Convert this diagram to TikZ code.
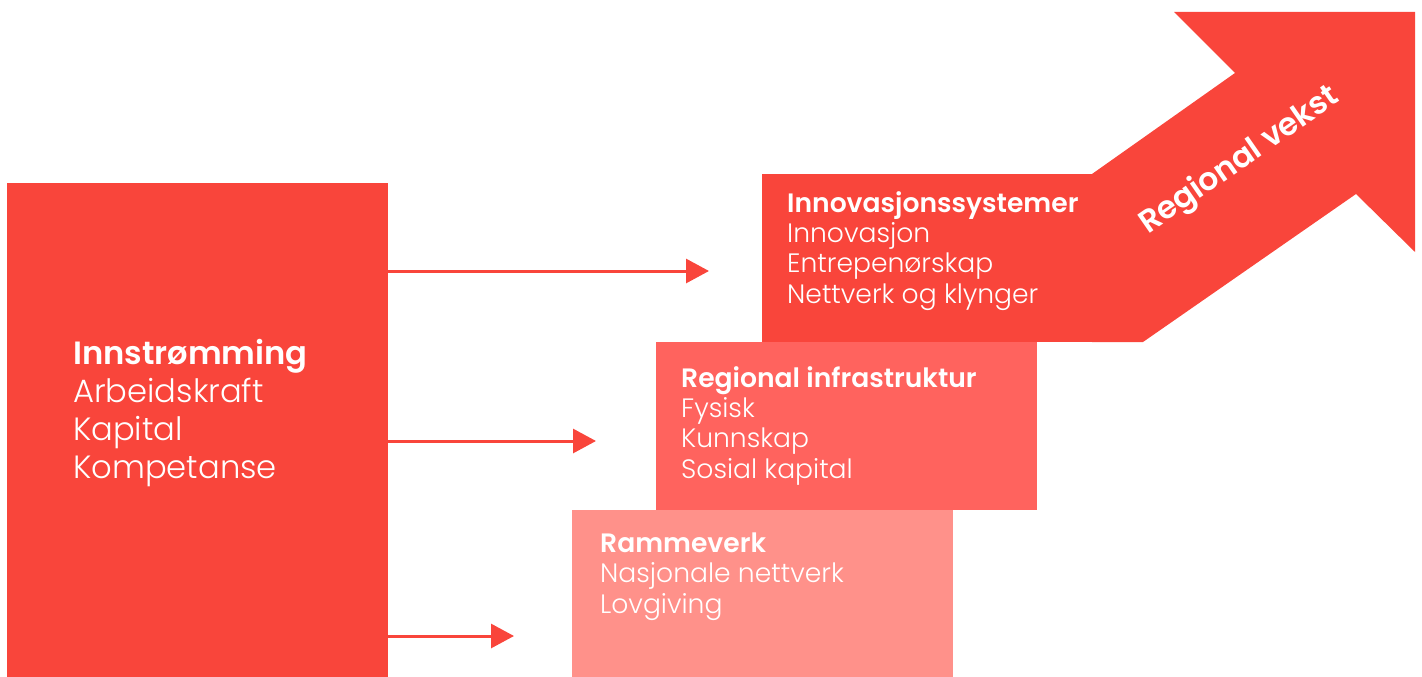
\documentclass[tikz,border=0pt]{standalone}
\usepackage{fontspec}
\setmainfont{Poppins}[UprightFont={* Light},BoldFont={* SemiBold}]
\usetikzlibrary{arrows.meta}
\definecolor{cTop}{HTML}{F9453B}
\definecolor{cMid}{HTML}{FF635E}
\definecolor{cLow}{HTML}{FF918A}
\tikzset{
  box/.style={rectangle, inner sep=0pt, draw=none, anchor=north west},
  boxtext/.style={text=white, inner sep=0pt, anchor=base west, align=left},
  flow/.style={draw=cTop, line width=3pt, -{Triangle[length=23pt,width=24pt]}},
}
\begin{document}
\begin{tikzpicture}[x=1pt,y=-1pt]
\useasboundingbox (0,0) rectangle (1422,677);
% boxes
\node[box, fill=cTop, minimum width=381pt, minimum height=494pt] (inflow) at (7,183) {};
\fill[cTop] (1092,174) -- (1235,73) -- (1174,12) -- (1415,12) -- (1415,252)
  -- (1356,194) -- (1143,342) -- (1092,342) -- cycle;
\node[box, fill=cTop, minimum width=381pt, minimum height=168pt] (innov) at (762,174) {};
\node[box, fill=cMid, minimum width=381pt, minimum height=168pt] (infra) at (656,342) {};
\node[box, fill=cLow, minimum width=381pt, minimum height=167pt] (frame) at (572,510) {};
% texts (anchored at the baseline of the last line)
\node[boxtext, font=\fontsize{32.2}{38}\selectfont] (inflowtext) at (73,478)
  {\textbf{Innstrømming}\\Arbeidskraft\\Kapital\\Kompetanse};
\node[text=white, font=\fontsize{31.5}{36}\selectfont\bfseries, rotate=34.8] (growth) at (1240,161) {Regional vekst};
\node[boxtext, font=\fontsize{26.6}{30.2}\selectfont] (innovtext) at (787,303)
  {\textbf{Innovasjonssystemer}\\Innovasjon\\Entrepenørskap\\Nettverk og klynger};
\node[boxtext, font=\fontsize{26.6}{30.3}\selectfont] (infratext) at (681,478)
  {\textbf{Regional infrastruktur}\\Fysisk\\Kunnskap\\Sosial kapital};
\node[boxtext, font=\fontsize{26.6}{30.5}\selectfont] (frametext) at (600,613)
  {\textbf{Rammeverk}\\Nasjonale nettverk\\Lovgiving};
% connectors
\coordinate (tipA) at (709,271);
\coordinate (tipB) at (596,441);
\coordinate (tipC) at (514,636);
\draw[flow] (inflow.east |- tipA) -- (tipA);
\draw[flow] (inflow.east |- tipB) -- (tipB);
\draw[flow] (inflow.east |- tipC) -- (tipC);
\end{tikzpicture}
\end{document}
